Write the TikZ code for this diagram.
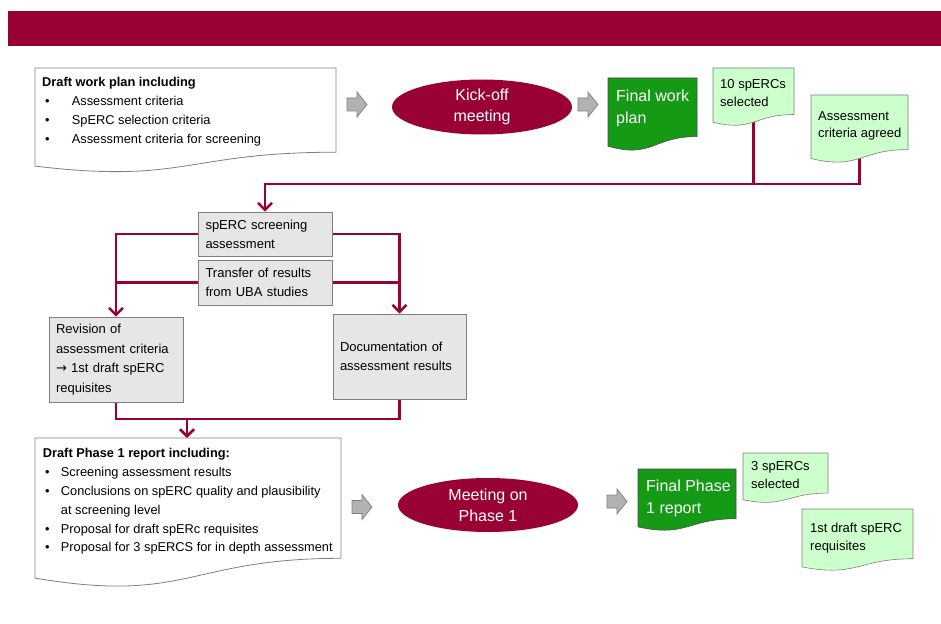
\documentclass[tikz,border=0pt]{standalone}
\usepackage{fontspec}
\setmainfont{Liberation Sans}
\newfontfamily\arrowfont{DejaVu Sans}
\usetikzlibrary{shapes.geometric,arrows.meta}
\definecolor{bord}{HTML}{990033}
\definecolor{dgreen}{HTML}{149A14}
\definecolor{lgreen}{HTML}{CCFFCC}
\definecolor{boxgray}{HTML}{E6E6E6}
\definecolor{edge}{HTML}{7F7F7F}
\definecolor{arrgray}{HTML}{B2B2B2}
\pgfdeclarelayer{lines}\pgfdeclarelayer{shapes}\pgfsetlayers{lines,shapes,main}
% #1 node, #2 width, #3 height, #4 style
\newcommand\docpath[4]{\path[#4] (#1.north west) -- ([xshift=#2pt]#1.north west) -- ([xshift=#2pt,yshift=-0.802*#3pt]#1.north west) .. controls ([xshift=0.5*#2pt,yshift=-0.802*#3pt]#1.north west) and ([xshift=0.5*#2pt,yshift=-1.107*#3pt]#1.north west) .. ([yshift=-0.934*#3pt]#1.north west) -- cycle;}
% block arrow drawn around the centre of a named place-holder node
\newcommand\blockarrow[1]{\draw[barrowstyle] ([xshift=-10pt,yshift=-6.5pt]#1.center) -- ([yshift=-6.5pt]#1.center) -- ([yshift=-12.5pt]#1.center) -- ([xshift=10pt]#1.center) -- ([yshift=12.5pt]#1.center) -- ([yshift=6.5pt]#1.center) -- ([xshift=-10pt,yshift=6.5pt]#1.center) -- cycle;}
\tikzset{
  conn/.style={draw=bord, line width=2.5pt},
  arr/.style={-{Straight Barb[length=7pt,width=14pt]}},
  docn/.style={anchor=north west, align=left, inner xsep=8pt},
  smalltext/.style={font=\fontsize{13}{18}\selectfont},
  doctext/.style={font=\fontsize{12.8}{18.8}\selectfont},
  bigtext/.style={font=\fontsize{16}{22}\selectfont, text=white},
  gbox/.style={draw=edge, fill=boxgray, line width=0.8pt, align=left, inner sep=0pt, font=\fontsize{13}{19}\selectfont},
  barrowplace/.style={inner sep=0pt, minimum width=20pt, minimum height=25pt},
  barrowstyle/.style={draw=edge, fill=arrgray, line width=0.7pt, line join=miter},
  ell/.style={ellipse, fill=bord, draw=none, text=white, align=center, inner sep=0pt,
     font=\fontsize{16}{21}\selectfont},
  whitedoc/.style={fill=white, draw=edge, line width=0.8pt},
  greendoc/.style={fill=dgreen, draw=black!70, line width=0.6pt},
  lightdoc/.style={fill=lgreen, draw=edge, line width=0.6pt}
}
\begin{document}
\begin{tikzpicture}[x=1pt,y=-1pt]
\useasboundingbox (0,0) rectangle (941,623);
\node[fill=bord, draw=none, inner sep=0pt, minimum width=933pt, minimum height=35pt, anchor=north west] (banner) at (8,11) {};

% top row
\node[docn, doctext, inner xsep=7pt, inner ysep=9.5pt] (dwp) at (35,68)
  {\textbf{Draft work plan including}\\
   \hspace*{3pt}\makebox[26.7pt][l]{•}Assessment criteria\\
   \hspace*{3pt}\makebox[26.7pt][l]{•}SpERC selection criteria\\
   \hspace*{3pt}\makebox[26.7pt][l]{•}Assessment criteria for screening};
\node[barrowplace] (a1) at (357,104.5) {};
\node[ell, minimum width=180pt, minimum height=55pt] (kick) at (482,107) {Kick-off\\meeting};
\node[barrowplace] (a2) at (588,104.5) {};
\node[docn, bigtext, inner ysep=11.3pt] (fwp) at (608,78) {Final work\\plan};
\node[docn, smalltext, inner xsep=7pt, inner ysep=11pt, font=\fontsize{13}{18.7}\selectfont] (s10) at (713,68) {10 spERCs\\selected};
\node[docn, smalltext, inner xsep=7pt, inner ysep=16.3pt, font=\fontsize{13}{17.5}\selectfont] (aca) at (811,95) {Assessment\\criteria agreed};

% middle
\node[gbox, minimum width=134pt, minimum height=44pt, text width=119pt] (scr) at (265,234) {spERC screening\\assessment};
\node[gbox, minimum width=134pt, minimum height=45pt, text width=119pt] (trans) at (265,282.5) {Transfer of results\\from UBA studies};
\node[gbox, minimum width=134pt, minimum height=85pt, text width=120pt, font=\fontsize{13}{19.5}\selectfont] (rev) at (116,359.5)
  {Revision of\\assessment~criteria\\{\arrowfont →} 1st draft spERC\\requisites};
\node[gbox, minimum width=133pt, minimum height=85pt, text width=119pt] (docr) at (399.5,356.5)
  {Documentation of\\assessment~results};

% bottom row
\node[docn, doctext, inner xsep=7.7pt, inner ysep=10.5pt] (dp1) at (35,438)
  {\textbf{Draft Phase 1 report including:}\\
   \hspace*{2.3pt}\makebox[15.7pt][l]{•}Screening assessment results\\
   \hspace*{2.3pt}\makebox[15.7pt][l]{•}Conclusions on spERC quality and plausibility\\
   \hspace*{18pt}at screening level\\
   \hspace*{2.3pt}\makebox[15.7pt][l]{•}Proposal for draft spERc requisites\\
   \hspace*{2.3pt}\makebox[15.7pt][l]{•}Proposal for 3 spERCS for in depth assessment};
\node[barrowplace] (a3) at (362,507) {};
\node[ell, minimum width=180pt, minimum height=54pt] (meet) at (488,505) {Meeting on\\Phase 1};
\node[barrowplace] (a4) at (617,501.5) {};
\node[docn, bigtext, inner ysep=10.3pt] (fp1) at (638,469) {Final Phase\\1 report};
\node[docn, smalltext, inner ysep=8.5pt] (s3) at (743,453) {3 spERCs\\selected};
\node[docn, smalltext, inner ysep=13.5pt] (r1) at (802,509) {1st draft spERC\\requisites};

% block arrows
\blockarrow{a1}
\blockarrow{a2}
\blockarrow{a3}
\blockarrow{a4}

% document shapes
\begin{pgfonlayer}{shapes}
\docpath{dwp}{301}{105}{whitedoc}
\docpath{fwp}{89}{73}{greendoc}
\docpath{s10}{81}{58}{lightdoc}
\docpath{aca}{97}{68}{lightdoc}
\docpath{dp1}{306}{150}{whitedoc}
\docpath{fp1}{98}{62}{greendoc}
\docpath{s3}{85}{50}{lightdoc}
\docpath{r1}{111}{62}{lightdoc}
\end{pgfonlayer}

% connectors
\begin{pgfonlayer}{lines}
\coordinate (bus) at (265,184);
\coordinate (s10c) at ([xshift=40.5pt,yshift=-30pt]s10.north west);
\coordinate (acac) at ([xshift=48.5pt,yshift=-30pt]aca.north west);
\draw[conn,arr] (acac) |- (bus) -- (scr.north);
\draw[conn] (s10c) -- (s10c |- bus);
\draw[conn,arr] (scr.west) -| (rev.north);
\draw[conn] (trans.west) -- (trans.west -| rev.north);
\draw[conn,arr] (scr.east) -| (docr.north);
\draw[conn] (trans.east) -- (trans.east -| docr.north);
\coordinate (join) at (116,419);
\coordinate (dp1top) at ([xshift=152pt]dp1.north west);
\draw[conn] (rev.south) -- (rev.south |- join) -| (docr.south);
\draw[conn,arr] (join -| dp1top) -- (dp1top);
\end{pgfonlayer}
\end{tikzpicture}
\end{document}
